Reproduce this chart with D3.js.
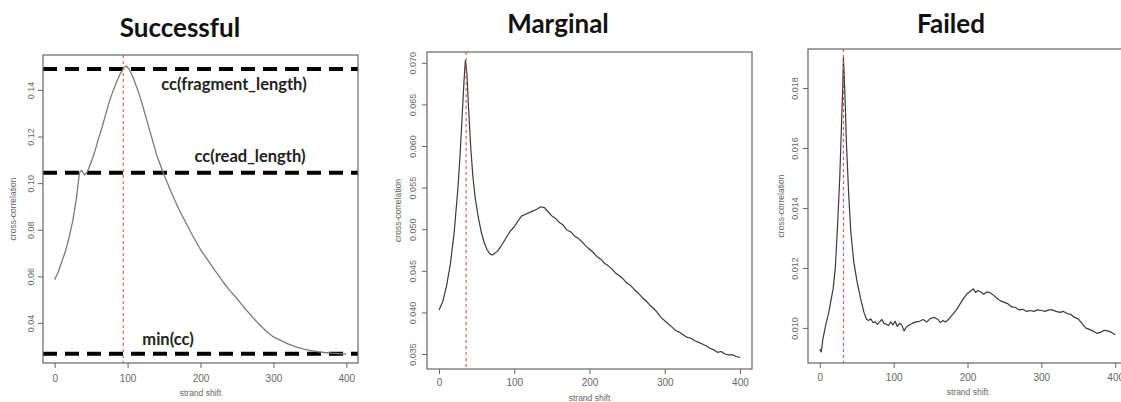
<!DOCTYPE html>
<html><head><meta charset="utf-8">
<script src="https://cdn.jsdelivr.net/npm/d3@7"></script>
<style>
html,body{margin:0;padding:0;background:#fff;overflow:hidden}
svg{display:block}
</style></head>
<body>
<svg id="chart" width="1121" height="402"></svg>
<script>
// ---------- DATA ----------
const panelTitles = ["Successful", "Marginal", "Failed"];
const xTicks = [0, 100, 200, 300, 400];
const xDomain = [-16, 416];

const successfulY = [0.04, 0.06, 0.08, 0.10, 0.12, 0.14];
const successfulYLabels = ["0.04", "0.06", "0.08", "0.10", "0.12", "0.14"];
const successfulDomain = [0.0228, 0.155];
const successfulPeak = 94;
const successfulCurve = [
 [0,0.0585],[5,0.062],[10,0.0665],[15,0.071],[20,0.077],[25,0.084],[30,0.094],[34,0.1045],[37,0.1055],[41,0.1035],[45,0.105],
 [50,0.109],[55,0.1135],[60,0.119],[65,0.124],[70,0.1295],[75,0.135],[80,0.1395],[85,0.1435],[90,0.147],[95,0.1495],[98,0.1503],
 [102,0.149],[108,0.145],[115,0.139],[120,0.134],[130,0.123],[140,0.112],[150,0.1035],[160,0.096],[170,0.089],[180,0.083],
 [190,0.077],[200,0.0715],[210,0.067],[220,0.0625],[230,0.058],[240,0.054],[250,0.0505],[260,0.0465],[270,0.043],[280,0.0395],
 [290,0.0365],[300,0.034],[310,0.0325],[320,0.031],[330,0.0298],[340,0.0289],[350,0.0282],[360,0.0277],[370,0.0273],[380,0.027],
 [390,0.0268],[400,0.0266]
];
const refLabels = ["cc(fragment_length)", "cc(read_length)", "min(cc)"];
const refValues = [0.149, 0.1045, 0.0268];

const marginalY = [0.035, 0.040, 0.045, 0.050, 0.055, 0.060, 0.065, 0.070];
const marginalYLabels = ["0.035", "0.040", "0.045", "0.050", "0.055", "0.060", "0.065", "0.070"];
const marginalDomain = [0.0332, 0.0713];
const marginalPeak = 36;
const marginalCurve = [
 [0,0.0403],[5,0.0413],[10,0.0432],[15,0.0458],[20,0.0495],[25,0.0548],[28,0.0590],[31,0.0640],[33,0.0675],[35,0.0703],[37,0.0688],
 [39,0.0650],[42,0.0600],[45,0.0563],[48,0.0538],[52,0.0515],[56,0.0497],[60,0.0484],[64,0.0475],[68,0.0470],[71,0.0469],[74,0.0471],
 [78,0.0474],[82,0.0479],[86,0.0485],[90,0.0491],[95,0.0498],[100,0.0503],[105,0.0510],[110,0.0516],[115,0.0518],[120,0.0520],
 [125,0.0522],[130,0.0524],[135,0.0527],[140,0.0526],[145,0.0521],[150,0.0516],[155,0.0513],[160,0.0508],[165,0.0505],[170,0.0499],
 [175,0.0497],[180,0.0492],[185,0.0489],[190,0.0485],[195,0.0480],[200,0.0476],[205,0.0472],[210,0.0467],[215,0.0464],[220,0.0459],
 [225,0.0456],[230,0.0452],[235,0.0447],[240,0.0444],[245,0.0440],[250,0.0435],[255,0.0432],[260,0.0427],[265,0.0423],[270,0.0418],
 [275,0.0414],[280,0.0409],[285,0.0405],[290,0.0400],[295,0.0394],[300,0.0390],[305,0.0386],[310,0.0382],[315,0.0378],[320,0.0376],
 [325,0.0373],[330,0.0370],[335,0.0369],[340,0.0366],[345,0.0364],[350,0.0362],[355,0.0360],[360,0.0357],[365,0.0355],[370,0.0352],
 [375,0.0353],[380,0.0350],[385,0.0349],[390,0.0349],[395,0.0347],[400,0.0346]
];

const failedY = [0.010, 0.012, 0.014, 0.016, 0.018];
const failedYLabels = ["0.010", "0.012", "0.014", "0.016", "0.018"];
const failedDomain = [0.00883, 0.0193];
const failedPeak = 32;
const failedCurve = [
 [0,0.0093],[2,0.0092],[4,0.0096],[8,0.0101],[12,0.0105],[15,0.0109],[18,0.0113],[21,0.0120],[24,0.0134],[27,0.0150],[29,0.0165],
 [31,0.0180],[32,0.0190],[34,0.0178],[36,0.0162],[39,0.0145],[42,0.0132],[46,0.0122],[50,0.0116],[55,0.0110],[60,0.0105],[63,0.0103],
 [66,0.01025],[69,0.0103],[72,0.01018],[75,0.0102],[78,0.01012],[81,0.0102],[84,0.01028],[87,0.01015],[90,0.01012],[93,0.01008],
 [96,0.0102],[99,0.0101],[102,0.01022],[105,0.01005],[108,0.01015],[111,0.0101],[114,0.0099],[117,0.01002],[120,0.01008],[125,0.01015],
 [130,0.0102],[135,0.01022],[140,0.01028],[145,0.0102],[150,0.01032],[155,0.01035],[160,0.01028],[163,0.01018],[167,0.01025],
 [170,0.0102],[175,0.0103],[180,0.01045],[185,0.0106],[190,0.0108],[195,0.0110],[200,0.01115],[205,0.01125],[208,0.0113],
 [211,0.01118],[214,0.01125],[218,0.0112],[222,0.01112],[226,0.0112],[230,0.01118],[235,0.0111],[240,0.01098],[245,0.0109],
 [250,0.01085],[255,0.0108],[260,0.0107],[265,0.01068],[270,0.0106],[275,0.01062],[280,0.01055],[285,0.01058],[290,0.01055],
 [295,0.0106],[300,0.01058],[305,0.01055],[310,0.0106],[315,0.0106],[320,0.01055],[325,0.01052],[330,0.01055],[335,0.01048],
 [340,0.01045],[345,0.01035],[350,0.0103],[355,0.01015],[360,0.0100],[365,0.00995],[370,0.0099],[375,0.00982],[380,0.00985],
 [385,0.00992],[390,0.0099],[395,0.00985],[400,0.00977]
];

// ---------- LAYOUT ----------
const panels = [
  {title: panelTitles[0], box:{l:43,r:358,t:55,b:363}, titleX:180, titleY:37, yTicks:successfulY, yLabels:successfulYLabels,
   yDomain:successfulDomain, curve:successfulCurve, peak:successfulPeak, curveColor:"#7a7a7a", curveW:1.3,
   yLabX:13, yTickLabX:31, xTickLabY:382, xLabY:396},
  {title: panelTitles[1], box:{l:427,r:752,t:52,b:369}, titleX:558, titleY:33, yTicks:marginalY, yLabels:marginalYLabels,
   yDomain:marginalDomain, curve:marginalCurve, peak:marginalPeak, curveColor:"#3a3a3a", curveW:1.2,
   yLabX:398, yTickLabX:413, xTickLabY:386, xLabY:401},
  {title: panelTitles[2], box:{l:808,r:1127,t:49,b:363}, titleX:951, titleY:33, yTicks:failedY, yLabels:failedYLabels,
   yDomain:failedDomain, curve:failedCurve, peak:failedPeak, curveColor:"#3a3a3a", curveW:1.2,
   yLabX:781, yTickLabX:795, xTickLabY:381, xLabY:395}
];

const svg = d3.select("#chart");
const axisFont = "'Liberation Sans', Arial, sans-serif";
const titleFont = "Lato, 'Open Sans', sans-serif";

panels.forEach((p, i) => {
  const b = p.box;
  const x = d3.scaleLinear().domain(xDomain).range([b.l, b.r]);
  const y = d3.scaleLinear().domain(p.yDomain).range([b.b, b.t]);
  const g = svg.append("g");

  // title
  g.append("text").attr("x", p.titleX).attr("y", p.titleY).attr("text-anchor","middle")
    .attr("font-family", titleFont).attr("font-weight", 700).attr("font-size", 26).attr("fill","#111")
    .text(p.title);

  // reference dashed lines (successful panel)
  if (i === 0) {
    refValues.forEach(v => {
      g.append("line").attr("x1", b.l).attr("x2", b.r).attr("y1", y(v)).attr("y2", y(v))
        .attr("stroke","#000").attr("stroke-width",4).attr("stroke-dasharray","14,8");
    });
    const labelPos = [[234, 21], [250, -11], [168, -9]];
    refLabels.forEach((t, k) => {
      g.append("text").attr("x", labelPos[k][0]).attr("y", y(refValues[k]) + labelPos[k][1])
        .attr("text-anchor","middle").attr("font-family", titleFont).attr("font-weight",700)
        .attr("font-size",16.5).attr("fill","#222").text(t);
    });
  }

  // curve
  const line = d3.line().x(d => x(d[0])).y(d => y(d[1]));
  g.append("path").datum(p.curve).attr("d", line).attr("fill","none")
    .attr("stroke", p.curveColor).attr("stroke-width", p.curveW).attr("stroke-linejoin","round");

  // peak marker (on top of curve)
  g.append("line").attr("x1", x(p.peak)).attr("x2", x(p.peak)).attr("y1", b.t).attr("y2", b.b)
    .attr("stroke","#e0504a").attr("stroke-width",1.1).attr("stroke-dasharray","3,3");

  // box
  g.append("rect").attr("x", b.l).attr("y", b.t).attr("width", b.r - b.l).attr("height", b.b - b.t)
    .attr("fill","none").attr("stroke","#666").attr("stroke-width",1.2);

  // x axis
  const xa = g.append("g").attr("transform", `translate(0,${b.b})`)
    .call(d3.axisBottom(x).tickValues(xTicks).tickSize(5).tickFormat(d3.format("d")));
  xa.select(".domain").remove();
  xa.selectAll(".tick line").attr("stroke","#666");
  xa.selectAll(".tick text").attr("y", null).attr("dy", null)
    .attr("transform", `translate(0,${p.xTickLabY - b.b})`)
    .attr("font-family", axisFont).attr("font-size", 10).attr("fill","#666");

  g.append("text").attr("x", (b.l + b.r) / 2).attr("y", p.xLabY).attr("text-anchor","middle")
    .attr("font-family", axisFont).attr("font-size", 8.5).attr("fill","#666").text("strand shift");

  // y axis
  const ya = g.append("g").attr("transform", `translate(${b.l},0)`)
    .call(d3.axisLeft(y).tickValues(p.yTicks).tickSize(5).tickFormat((d, k) => p.yLabels[k]));
  ya.select(".domain").remove();
  ya.selectAll(".tick line").attr("stroke","#666");
  ya.selectAll(".tick text").attr("x", null).attr("dy", null)
    .attr("transform", `translate(${p.yTickLabX - b.l},0) rotate(-90)`)
    .attr("text-anchor","middle").attr("dominant-baseline","central")
    .attr("font-family", axisFont).attr("font-size", 9).attr("fill","#666");

  g.append("text").attr("transform", `translate(${p.yLabX},${(b.t + b.b) / 2}) rotate(-90)`)
    .attr("text-anchor","middle").attr("dominant-baseline","central")
    .attr("font-family", axisFont).attr("font-size", 8.5).attr("fill","#666").text("cross-correlation");
});
</script>
</body></html>
